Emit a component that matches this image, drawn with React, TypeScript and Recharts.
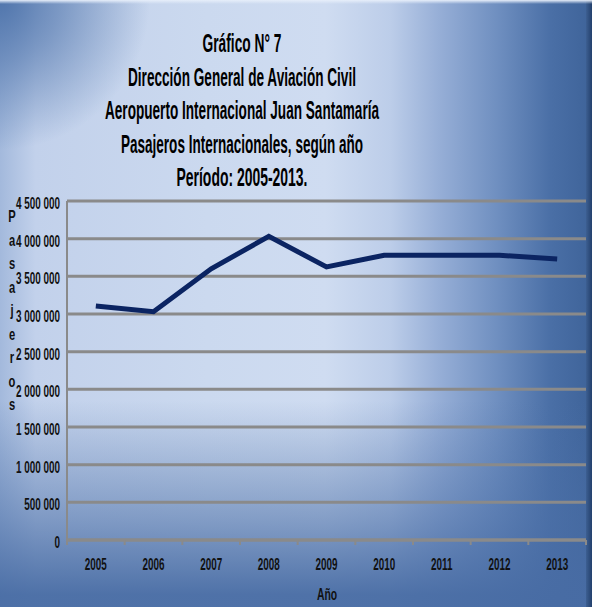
import React from "react";
import { LineChart, Line, XAxis, YAxis, CartesianGrid } from "recharts";

const years = ["2005", "2006", "2007", "2008", "2009", "2010", "2011", "2012", "2013"];
const passengers = [3105000, 3030000, 3600000, 4030000, 3625000, 3780000, 3780000, 3780000, 3730000];
const yTicks = [0, 500000, 1000000, 1500000, 2000000, 2500000, 3000000, 3500000, 4000000, 4500000];
const titleLines = [
  "Gráfico N° 7",
  "Dirección General de Aviación Civil",
  "Aeropuerto Internacional Juan Santamaría",
  "Pasajeros Internacionales, según año",
  "Período:  2005-2013.",
];
const titleWidths = [79, 228, 274, 242, 131];
const yAxisLetters = "Pasajeros".split("");
const xAxisTitle = "Año";

const data = years.map((y, i) => ({ year: y, value: passengers[i] }));

const FONT = '"Liberation Sans", Arial, sans-serif';
const SX = 0.6;
const W = 592;
const H = 607;
const M = { top: 201, right: 6, bottom: 0, left: 7 };
const plotW = W - M.left - 60 - M.right;
const band = plotW / years.length;

const fmt = (v: number) => String(v).replace(/\B(?=(\d{3})+(?!\d))/g, " ");

const Narrow = ({ x, y, anchor, size, sx = SX, children }: any) => (
  <text
    transform={`translate(${x},${y}) scale(${sx},1)`}
    textAnchor={anchor}
    fontFamily={FONT}
    fontWeight="bold"
    fontSize={size}
    fill="#111"
  >
    {children}
  </text>
);

const XTick = (props: any) => {
  const { x, y, payload, index } = props;
  const left = x - band / 2;
  const right = x + band / 2;
  return (
    <g>
      <line x1={left} x2={left} y1={y} y2={y + 5} stroke="#8a8a8a" strokeWidth={2} />
      {index === years.length - 1 && (
        <line x1={right} x2={right} y1={y} y2={y + 5} stroke="#8a8a8a" strokeWidth={2} />
      )}
      <Narrow x={x} y={y + 30} anchor="middle" size={16.5}>
        {payload.value}
      </Narrow>
    </g>
  );
};

const YTick = (props: any) => {
  const { x, y, payload } = props;
  return (
    <Narrow x={x} y={y + 8} anchor="end" size={16.5}>
      {fmt(payload.value)}
    </Narrow>
  );
};

export default function App() {
  return (
    <div
      style={{
        position: "absolute",
        left: 0,
        top: 0,
        width: W,
        height: H,
        overflow: "hidden",
        background: [
          "radial-gradient(circle at 0 0, rgba(76,114,170,0.95) 0px, rgba(76,114,170,0.6) 60px, rgba(76,114,170,0) 150px)",
          "linear-gradient(to bottom, rgba(74,110,166,0) 0%, rgba(74,110,166,0) 66%, rgba(74,110,166,0.55) 85%, rgba(72,108,164,0.95) 98%)",
          "linear-gradient(to right, #a3b9dc 0%, #c2d1eb 6%, #cbd9ef 35%, #cfdcf1 55%, #bccde9 66%, #97afd7 74%, #6f8fc0 84%, #4a6fa6 93%, #3e6399 100%)",
        ].join(", "),
      }}
    >
      <div
        style={{
          position: "absolute",
          right: 0,
          top: 0,
          width: 6,
          height: H,
          background: "linear-gradient(to right, #3d5f92, #23406c)",
        }}
      />
      <div
        style={{
          position: "absolute",
          left: 0,
          top: 0,
          width: W,
          height: 4,
          background: "linear-gradient(to bottom, #e6eefa, rgba(200,215,240,0))",
        }}
      />
      <svg style={{ position: "absolute", left: 0, top: 0 }} width={W} height={H}>
        {titleLines.map((t, i) => (
          <text
            key={i}
            x={242}
            y={52 + i * 33.5}
            textAnchor="middle"
            textLength={titleWidths[i]}
            lengthAdjust="spacingAndGlyphs"
            fontFamily={FONT}
            fontWeight="bold"
            fontSize={25}
            fill="#000"
          >
            {t}
          </text>
        ))}
        {yAxisLetters.map((c, i) => (
          <Narrow key={i} x={12} y={222 + i * 23.5} anchor="middle" size={16} sx={0.7}>
            {c}
          </Narrow>
        ))}
        <Narrow x={327} y={600} anchor="middle" size={16} sx={0.65}>
          {xAxisTitle}
        </Narrow>
      </svg>
      <div style={{ position: "absolute", left: 0, top: 0 }}>
        <LineChart width={W} height={H} data={data} margin={M}>
          <CartesianGrid horizontal vertical={false} stroke="#8a8a8a" strokeWidth={3} />
          <XAxis
            dataKey="year"
            padding={{ left: band / 2, right: band / 2 }}
            height={67}
            axisLine={{ stroke: "#8a8a8a", strokeWidth: 3 }}
            tickLine={false}
            tickSize={0}
            tickMargin={0}
            tick={<XTick />}
            interval={0}
          />
          <YAxis
            width={60}
            domain={[0, 4500000]}
            ticks={yTicks}
            interval={0}
            axisLine={{ stroke: "#8a8a8a", strokeWidth: 2 }}
            tickLine={false}
            tickSize={0}
            tickMargin={7}
            tick={<YTick />}
          />
          <Line
            type="linear"
            dataKey="value"
            stroke="#0b2462"
            strokeWidth={5}
            dot={false}
            isAnimationActive={false}
          />
        </LineChart>
      </div>
    </div>
  );
}
